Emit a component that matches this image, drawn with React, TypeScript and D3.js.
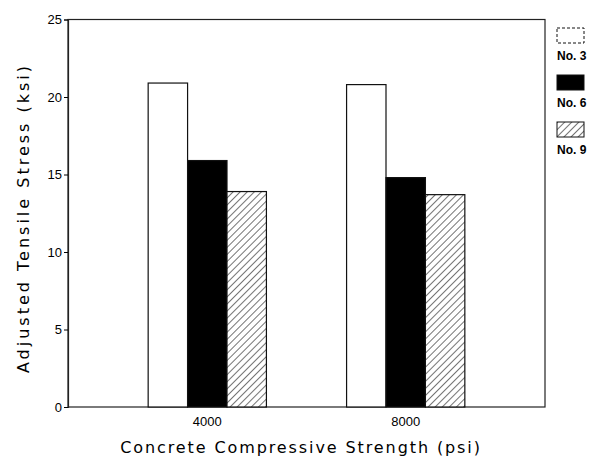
import React, { useEffect, useRef } from 'react';
import * as d3 from 'd3';

const strengths = ['4000', '8000'];
const barSizes = ['No. 3', 'No. 6', 'No. 9'];
const no3Values = [20.9, 20.8];
const no6Values = [15.9, 14.8];
const no9Values = [13.9, 13.7];
const yTicks = [0, 5, 10, 15, 20, 25];

const App: React.FC = () => {
    const svgRef = useRef<SVGSVGElement | null>(null);

    useEffect(() => {
        const svg = d3.select(svgRef.current);
        svg.selectAll('*').remove();

        const width = 604;
        const height = 462;
        const margin = { top: 19.5, right: 59, bottom: 55, left: 68 };

        const x = d3.scaleBand()
            .domain(strengths)
            .range([margin.left, width - margin.right])
            .paddingInner(0.404)
            .paddingOuter(0.404);

        const xInner = d3.scaleBand()
            .domain(barSizes)
            .range([0, x.bandwidth()]);

        const y = d3.scaleLinear()
            .domain([0, 25])
            .range([height - margin.bottom, margin.top]);

        // hatch pattern for No. 9
        const defs = svg.append('defs');
        const pat = defs.append('pattern')
            .attr('id', 'hatch')
            .attr('patternUnits', 'userSpaceOnUse')
            .attr('width', 5)
            .attr('height', 5)
            .attr('patternTransform', 'rotate(45)');
        pat.append('rect').attr('width', 5).attr('height', 5).attr('fill', '#fff');
        pat.append('line')
            .attr('x1', 0).attr('y1', 0).attr('x2', 0).attr('y2', 5)
            .attr('stroke', '#000').attr('stroke-width', 1.1);

        const fills = ['#fff', '#000', 'url(#hatch)'];
        const series = [no3Values, no6Values, no9Values];

        const rows = strengths.flatMap((s, i) =>
            barSizes.map((b, j) => ({ s, b, j, value: series[j][i] })));

        // frame
        svg.append('rect')
            .attr('x', margin.left)
            .attr('y', y(25))
            .attr('width', width - margin.right - margin.left)
            .attr('height', y(0) - y(25))
            .attr('fill', 'none')
            .attr('stroke', '#222')
            .attr('stroke-width', 1.2);

        // bars
        svg.append('g')
            .selectAll('rect')
            .data(rows)
            .enter()
            .append('rect')
            .attr('x', d => x(d.s)! + xInner(d.b)!)
            .attr('y', d => y(d.value))
            .attr('width', xInner.bandwidth())
            .attr('height', d => y(0) - y(d.value))
            .attr('fill', d => fills[d.j])
            .attr('stroke', '#111')
            .attr('stroke-width', 1.2);

        // Y axis
        const yAxis = svg.append('g')
            .attr('transform', `translate(${margin.left},0)`)
            .call(d3.axisLeft(y).tickValues(yTicks).tickSize(4).tickPadding(2));
        yAxis.select('.domain').attr('stroke', '#222').attr('stroke-width', 1.2);
        yAxis.selectAll('text')
            .attr('font-family', 'Liberation Sans, Arial, sans-serif')
            .attr('font-size', 13)
            .attr('fill', '#000');

        // X axis labels
        const xAxis = svg.append('g')
            .attr('transform', `translate(0,${y(0)})`)
            .call(d3.axisBottom(x).tickSize(0).tickPadding(10));
        xAxis.select('.domain').remove();
        xAxis.selectAll('text')
            .attr('font-family', 'Liberation Sans, Arial, sans-serif')
            .attr('font-size', 13)
            .attr('fill', '#000');

        // axis titles
        svg.append('text')
            .attr('x', 301)
            .attr('y', 453)
            .attr('text-anchor', 'middle')
            .attr('font-family', 'DejaVu Sans, sans-serif')
            .attr('font-size', 16)
            .attr('letter-spacing', 1.9)
            .text('Concrete Compressive Strength (psi)');

        svg.append('text')
            .attr('transform', `translate(29,218) rotate(-90)`)
            .attr('text-anchor', 'middle')
            .attr('font-family', 'DejaVu Sans, sans-serif')
            .attr('font-size', 16)
            .attr('letter-spacing', 3)
            .text('Adjusted Tensile Stress (ksi)');

        // legend
        const legend = svg.append('g').attr('transform', 'translate(557,28)');
        barSizes.forEach((b, j) => {
            const g = legend.append('g').attr('transform', `translate(0,${j * 47})`);
            g.append('rect')
                .attr('width', 27)
                .attr('height', 15)
                .attr('fill', fills[j])
                .attr('stroke', '#111')
                .attr('stroke-width', 1)
                .attr('stroke-dasharray', j === 0 ? '3,2' : null);
            g.append('text')
                .attr('x', 0)
                .attr('y', 32)
                .attr('font-family', 'Liberation Sans, Arial, sans-serif')
                .attr('font-size', 12)
                .attr('font-weight', 'bold')
                .text(b);
        });
    }, []);

    return (
        <div style={{ position: 'absolute', left: 0, top: 0 }}>
            <svg ref={svgRef} width={604} height={462} style={{ display: 'block', background: '#fff' }}></svg>
        </div>
    );
};

export default App;
